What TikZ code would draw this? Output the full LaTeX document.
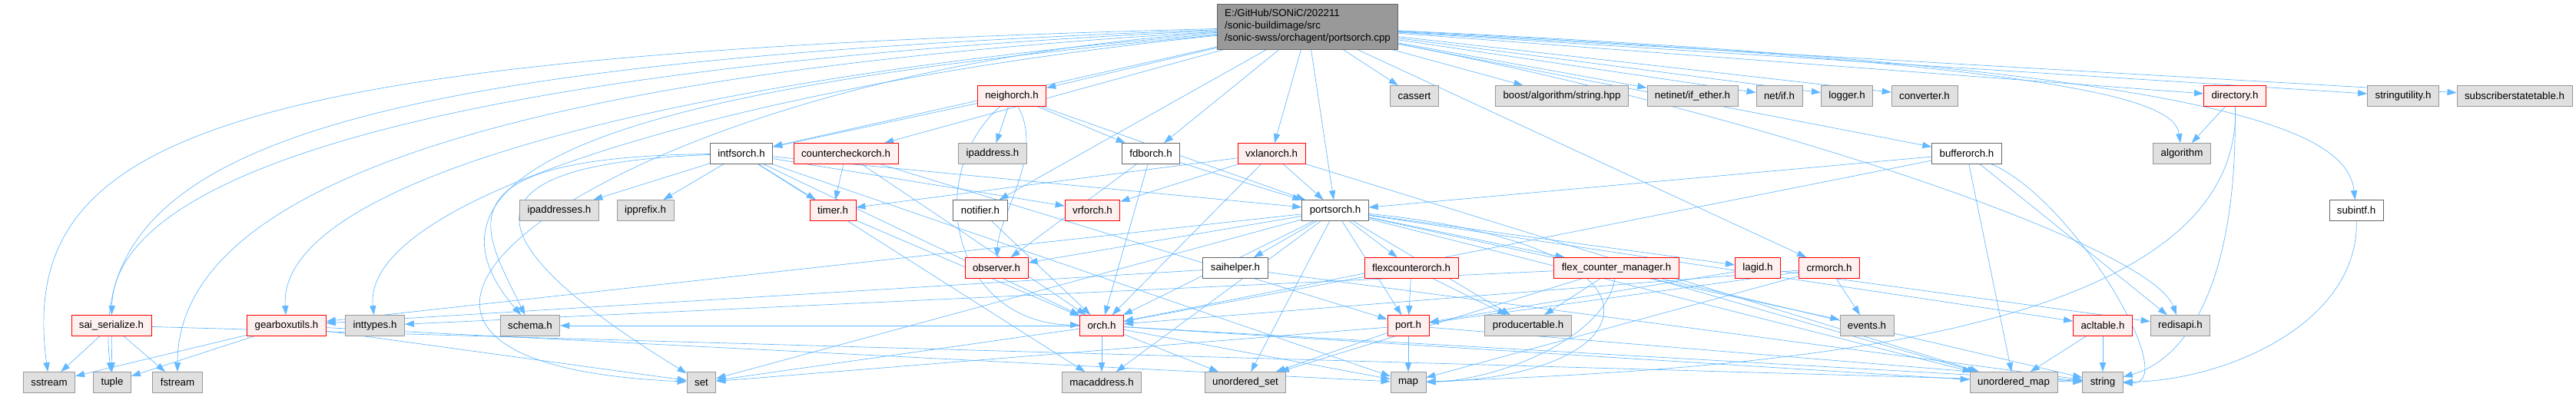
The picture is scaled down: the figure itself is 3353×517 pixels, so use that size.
\documentclass[tikz,border=0pt]{standalone}
\usepackage{fontspec}
\setmainfont{Liberation Sans}
\usetikzlibrary{arrows.meta}
\definecolor{edgeblue}{HTML}{63B8FF}
\definecolor{boxgrey}{HTML}{E0E0E0}
\definecolor{srcgrey}{HTML}{999999}
\definecolor{rimgrey}{HTML}{999999}
\definecolor{rimdark}{HTML}{666666}
\definecolor{truncfill}{HTML}{FFF0F0}
\definecolor{truncrim}{HTML}{FF0000}
\pgfdeclarelayer{back}
\pgfsetlayers{back,main}

\begin{document}
\begin{tikzpicture}[x=0.2646mm, y=-0.2646mm,
    every node/.style={font=\fontsize{10}{12}\selectfont, minimum height=7.1mm,
      inner xsep=2.65mm, inner ysep=0pt, line width=0.6pt},
    extfile/.style={draw=rimgrey, fill=boxgrey},
    plainfile/.style={draw=rimdark, fill=white},
    truncfile/.style={draw=truncrim, fill=truncfill},
    srcfile/.style={draw=rimdark, fill=srcgrey, align=left,
      minimum height=15.6mm, inner ysep=1mm},
    edge/.style={draw=edgeblue, line width=0.5pt,
      -{Triangle[length=3.2mm, width=2.2mm]}}]
  \useasboundingbox (0,0) rectangle (3353,517);
  % the source file
  \node[srcfile] (src) at (1702,34.5)
    {E:/GitHub/SONiC/202211\\/sonic-buildimage/src\\/sonic-swss/orchagent/portsorch.cpp};
  % row 1
  \node[truncfile] (neigh) at (1317,125) {neighorch.h};
  \node[extfile] (cassert) at (1841,125) {cassert};
  \node[extfile] (boost) at (2033,125) {boost/algorithm/string.hpp};
  \node[extfile] (netinet) at (2203,125) {netinet/if\_ether.h};
  \node[extfile] (netif) at (2316,125) {net/if.h};
  \node[extfile] (logger) at (2404,125) {logger.h};
  \node[extfile] (converter) at (2505,125) {converter.h};
  \node[truncfile] (directory) at (2909,125) {directory.h};
  \node[extfile] (strutil) at (3128,125) {stringutility.h};
  \node[extfile] (substate) at (3273,125) {subscriberstatetable.h};
  % row 2
  \node[plainfile] (intfs) at (965,200) {intfsorch.h};
  \node[truncfile] (ccheck) at (1101,200) {countercheckorch.h};
  \node[extfile] (ipaddr) at (1292,200) {ipaddress.h};
  \node[plainfile] (fdb) at (1498,200) {fdborch.h};
  \node[truncfile] (vxlan) at (1655,200) {vxlanorch.h};
  \node[plainfile] (buffer) at (2560,200) {bufferorch.h};
  \node[extfile] (algo) at (2840,200) {algorithm};
  % row 3
  \node[extfile] (ipaddrs) at (728,274) {ipaddresses.h};
  \node[extfile] (ipprefix) at (840,274) {ipprefix.h};
  \node[truncfile] (timer) at (1084,274) {timer.h};
  \node[plainfile] (notifier) at (1276,274) {notifier.h};
  \node[truncfile] (vrf) at (1422,274) {vrforch.h};
  \node[plainfile] (ports) at (1738,274) {portsorch.h};
  \node[plainfile] (subintf) at (3067,274) {subintf.h};
  % row 4
  \node[truncfile] (observer) at (1297,349) {observer.h};
  \node[plainfile] (saihelper) at (1608,349) {saihelper.h};
  \node[truncfile] (flexorch) at (1837,349) {flexcounterorch.h};
  \node[truncfile] (fcm) at (2104,349) {flex\_counter\_manager.h};
  \node[truncfile] (lagid) at (2288,349) {lagid.h};
  \node[truncfile] (crm) at (2381,349) {crmorch.h};
  % row 5
  \node[truncfile] (saiser) at (145,424) {sai\_serialize.h};
  \node[truncfile] (gearbox) at (373,424) {gearboxutils.h};
  \node[extfile] (inttypes) at (488,424) {inttypes.h};
  \node[extfile] (schema) at (690,424) {schema.h};
  \node[truncfile] (orch) at (1434,424) {orch.h};
  \node[truncfile] (port) at (1833,424) {port.h};
  \node[extfile] (producer) at (1989,424) {producertable.h};
  \node[extfile] (events) at (2430,424) {events.h};
  \node[truncfile] (acl) at (2737,424) {acltable.h};
  \node[extfile] (redisapi) at (2838,424) {redisapi.h};
  % row 6
  \node[extfile] (sstream) at (64,498) {sstream};
  \node[extfile] (tuple) at (146,498) {tuple};
  \node[extfile] (fstream) at (231,498) {fstream};
  \node[extfile] (set) at (913,498) {set};
  \node[extfile] (mac) at (1434,498) {macaddress.h};
  \node[extfile] (uset) at (1621,498) {unordered\_set};
  \node[extfile] (map) at (1833,498) {map};
  \node[extfile] (umap) at (2621,498) {unordered\_map};
  \node[extfile] (string) at (2737,498) {string};

  \begin{pgfonlayer}{back}
    % straight includes
    \foreach \a/\b in {src/neigh, src/intfs, src/ccheck, src/fdb, src/vxlan, src/ports,
        src/notifier, src/cassert, src/boost, src/netinet, src/netif, src/logger,
        src/converter, src/directory, src/strutil, src/substate, src/buffer, src/crm,
        neigh/intfs, neigh/ipaddr, neigh/fdb, neigh/ports,
        intfs/ipaddrs, intfs/ipprefix, intfs/timer, intfs/vrf, intfs/ports, intfs/orch,
        intfs/mac, intfs/map,
        ccheck/timer, ccheck/orch, ccheck/port,
        fdb/ports, fdb/orch, fdb/observer,
        vxlan/timer, vxlan/vrf, vxlan/orch, vxlan/ports, vxlan/umap,
        buffer/ports, buffer/orch, buffer/redisapi, buffer/umap,
        directory/algo, timer/orch, notifier/orch,
        ports/observer, ports/saihelper, ports/flexorch, ports/fcm, ports/lagid, ports/port,
        ports/producer, ports/events, ports/acl, ports/orch, ports/mac, ports/uset,
        ports/umap, ports/gearbox, ports/set,
        saihelper/gearbox, saihelper/string,
        flexorch/port, flexorch/producer, flexorch/orch,
        fcm/producer, fcm/inttypes, fcm/umap, fcm/uset, fcm/string,
        lagid/port, lagid/redisapi,
        crm/orch, crm/port, crm/events, crm/map,
        acl/umap, acl/string,
        port/map, port/set, port/uset, port/string,
        orch/mac, orch/uset, orch/set, orch/map, orch/umap, orch/string, orch/schema,
        gearbox/sstream, gearbox/tuple, gearbox/set, gearbox/map,
        saiser/sstream, saiser/tuple, saiser/fstream, saiser/string}{%
      \draw[edge] (\a) -- (\b);}
    % long sweeps out of the source file
    \foreach \b/\p/\q in {sstream/{300,70}/{20,170}, tuple/{450,80}/{110,190},
        saiser/{600,85}/{150,220}, fstream/{750,90}/{231,220}, set/{800,95}/{290,470},
        gearbox/{900,100}/{360,230}, inttypes/{1000,105}/{470,250},
        schema/{1000,100}/{480,180}, algo/{2700,85}/{2830,130},
        subintf/{2900,90}/{3055,170}, redisapi/{2300,150}/{2800,320}}{%
      \draw[edge] (src) .. controls (\p) and (\q) .. (\b);}
    % bent ones
    \draw[edge] (neigh) .. controls (1360,200) and (1300,280) .. (observer);
    \draw[edge] (neigh) .. controls (1200,230) and (1240,420) .. (orch);
    \draw[edge] (intfs) .. controls (560,205) and (630,300) .. (schema);
    \draw[edge] (intfs) .. controls (560,215) and (640,330) .. (set);
    \draw[edge] (ports) .. controls (2200,320) and (2150,490) .. (map);
    \draw[edge] (fcm) .. controls (2090,440) and (1950,495) .. (map);
    \draw[edge] (buffer) .. controls (2700,260) and (2840,500) .. (string);
    \draw[edge] (directory) .. controls (2913,380) and (2840,470) .. (string);
    \draw[edge] (directory) .. controls (2920,440) and (2300,480) .. (map);
    \draw[edge] (subintf) .. controls (3070,420) and (2900,495) .. (string);
  \end{pgfonlayer}
\end{tikzpicture}
\end{document}
